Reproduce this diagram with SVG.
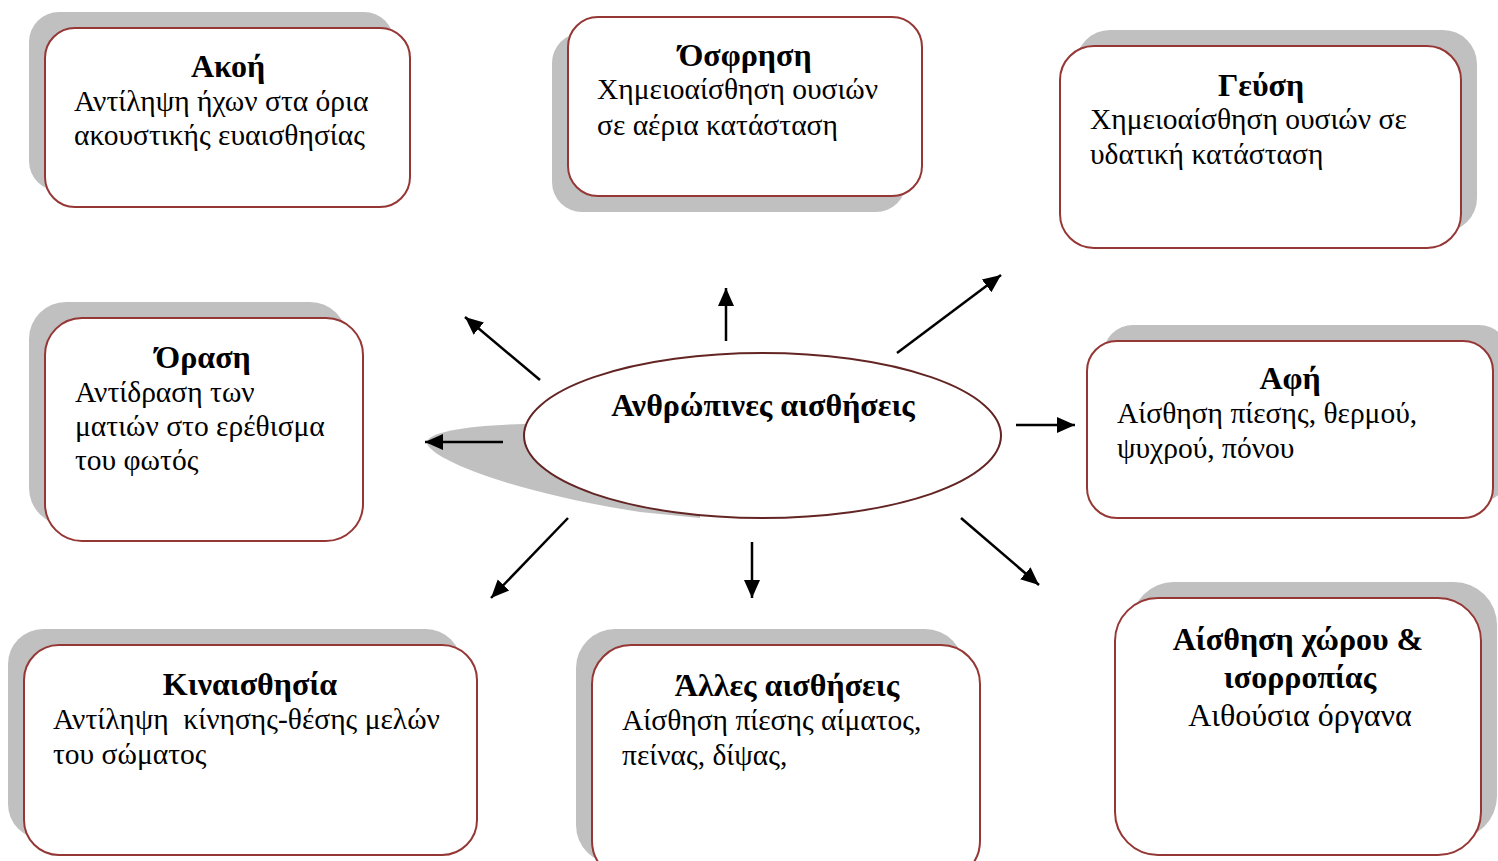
<svg xmlns="http://www.w3.org/2000/svg" width="1498" height="861" viewBox="0 0 1498 861">
<style>
.sh{fill:#c0c0c0;stroke:none}
.bx{fill:#ffffff;stroke:#953735;stroke-width:2}
.t{font-family:"Liberation Serif","Times New Roman",serif;font-weight:bold;font-size:32px;fill:#000;text-anchor:middle}
.b{font-family:"Liberation Serif","Times New Roman",serif;font-size:29.5px;fill:#000}
.c{text-anchor:middle;font-size:32px}
.ar{stroke:#000;stroke-width:2.5;fill:none;marker-end:url(#ah)}
</style>
<defs>
<marker id="ah" markerUnits="userSpaceOnUse" markerWidth="20" markerHeight="18" viewBox="0 0 20 18" refX="18" refY="9" orient="auto">
<path d="M0,1 L18,9 L0,17 Z" fill="#000"/>
</marker>
</defs>
<rect width="1498" height="861" fill="#fff"/>

<g id="akoi">
<rect class="sh" x="29" y="12" width="365" height="179" rx="30"/>
<rect class="bx" x="45" y="28" width="365" height="179" rx="30"/>
<text class="t" x="228" y="77">Ακοή</text>
<text class="b" x="74" y="111">Αντίληψη ήχων στα όρια</text>
<text class="b" x="74" y="145">ακουστικής ευαισθησίας</text>
</g>

<g id="osfrisi">
<rect class="sh" x="552" y="33" width="354" height="179" rx="30"/>
<rect class="bx" x="568" y="17" width="354" height="179" rx="30"/>
<text class="t" x="745" y="66">Όσφρηση</text>
<text class="b" x="597" y="99">Χημειοαίσθηση ουσιών</text>
<text class="b" x="597" y="135">σε αέρια κατάσταση</text>
</g>

<g id="gefsi">
<rect class="sh" x="1076" y="30" width="401" height="202" rx="34"/>
<rect class="bx" x="1060" y="46" width="401" height="202" rx="34"/>
<text class="t" x="1261" y="96">Γεύση</text>
<text class="b" x="1090" y="129">Χημειοαίσθηση ουσιών σε</text>
<text class="b" x="1090" y="164">υδατική κατάσταση</text>
</g>

<g id="orasi">
<rect class="sh" x="29" y="302" width="318" height="223" rx="37"/>
<rect class="bx" x="45" y="318" width="318" height="223" rx="37"/>
<text class="t" x="203" y="368">Όραση</text>
<text class="b" x="75" y="402">Αντίδραση των</text>
<text class="b" x="75" y="436">ματιών στο ερέθισμα</text>
<text class="b" x="75" y="470">του φωτός</text>
</g>

<g id="afi">
<rect class="sh" x="1103" y="325" width="406" height="177" rx="30"/>
<rect class="bx" x="1087" y="341" width="406" height="177" rx="30"/>
<text class="t" x="1290" y="389">Αφή</text>
<text class="b" x="1117" y="423">Αίσθηση πίεσης, θερμού,</text>
<text class="b" x="1117" y="458">ψυχρού, πόνου</text>
</g>

<g id="kinaisthisia">
<rect class="sh" x="8" y="629" width="453" height="210" rx="35"/>
<rect class="bx" x="24" y="645" width="453" height="210" rx="35"/>
<text class="t" x="250" y="695">Κιναισθησία</text>
<text class="b" x="53" y="729" xml:space="preserve">Αντίληψη  κίνησης-θέσης μελών</text>
<text class="b" x="53" y="764">του σώματος</text>
</g>

<g id="alles">
<rect class="sh" x="576" y="629" width="388" height="235" rx="39"/>
<rect class="bx" x="592" y="645" width="388" height="235" rx="39"/>
<text class="t" x="787" y="696">Άλλες αισθήσεις</text>
<text class="b" x="622" y="730">Αίσθηση πίεσης αίματος,</text>
<text class="b" x="622" y="765">πείνας, δίψας,</text>
</g>

<g id="xorou">
<rect class="sh" x="1131" y="582" width="366" height="257" rx="43"/>
<rect class="bx" x="1115" y="598" width="366" height="257" rx="43"/>
<text class="t" x="1298" y="650">Αίσθηση χώρου &amp;</text>
<text class="t" x="1300" y="688">ισορροπίας</text>
<text class="b c" x="1300" y="726">Αιθούσια όργανα</text>
</g>

<g id="center">
<path class="sh" d="M525,424 C470,425 428,432 427,442 C426,456 500,490 640,512 L700,518 L700,440 Z"/>
<ellipse cx="762.5" cy="435.5" rx="238.5" ry="82.5" fill="#fff" stroke="#632523" stroke-width="2"/>
<text class="t" x="763" y="416">Ανθρώπινες αισθήσεις</text>
</g>

<g id="connectors">
<line class="ar" x1="540" y1="380" x2="465" y2="317"/>
<line class="ar" x1="726" y1="341" x2="726" y2="288"/>
<line class="ar" x1="897" y1="353" x2="1001" y2="275"/>
<line class="ar" x1="1016" y1="425" x2="1075" y2="425"/>
<line class="ar" x1="503" y1="442" x2="425" y2="442"/>
<line class="ar" x1="568" y1="518" x2="491" y2="598"/>
<line class="ar" x1="752" y1="542" x2="752" y2="598"/>
<line class="ar" x1="961" y1="518" x2="1039" y2="585"/>
</g>
</svg>
